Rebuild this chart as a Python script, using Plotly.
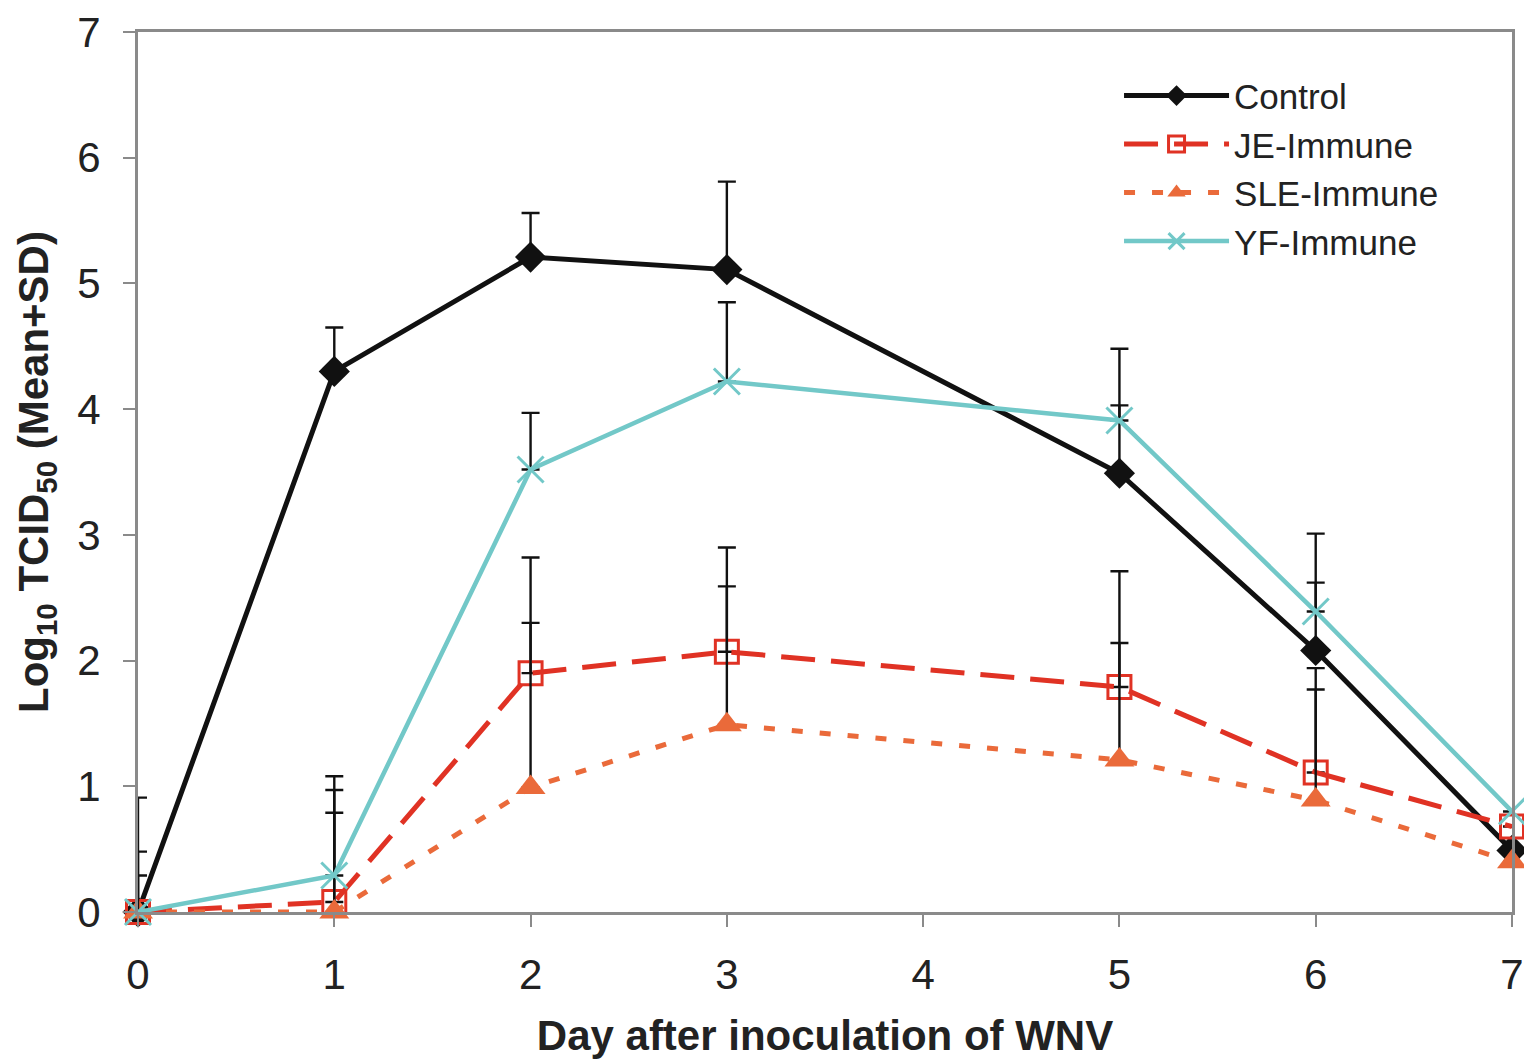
import plotly.graph_objects as go

days = [0, 1, 2, 3, 5, 6, 7]
control = [0.0, 4.30, 5.21, 5.11, 3.49, 2.08, 0.49]
je = [0.0, 0.08, 1.90, 2.07, 1.79, 1.11, 0.68]
sle = [0.0, 0.0, 0.99, 1.49, 1.21, 0.89, 0.40]
yf = [0.0, 0.29, 3.52, 4.22, 3.91, 2.39, 0.80]

# upper ends of SD bars (mean + SD)
control_top = [0.91, 4.65, 5.56, 5.81, 4.03, 2.62, None]
je_top = [0.48, 0.97, 2.82, 2.90, 2.71, 1.94, None]
sle_top = [None, 0.79, 2.30, 2.59, 2.14, 1.77, None]
yf_top = [0.29, 1.08, 3.97, 4.85, 4.48, 3.01, None]

x_ticks = [0, 1, 2, 3, 4, 5, 6, 7]
y_ticks = [0, 1, 2, 3, 4, 5, 6, 7]


def sd(mean, top):
    return [None if t is None else max(t - m, 0) for m, t in zip(mean, top)]


err_style = dict(type="data", symmetric=False, color="#111111", thickness=2.4, width=9)

series = [
    ("Control", control, control_top, dict(color="#111111", width=5, dash="solid"),
     dict(symbol="diamond", size=24, color="#111111")),
    ("JE-Immune", je, je_top, dict(color="#e03224", width=5, dash="34px,16px"),
     dict(symbol="square-open", size=23, color="#e03224", line=dict(width=3, color="#e03224"))),
    ("SLE-Immune", sle, sle_top, dict(color="#ea6a3a", width=5, dash="11px,17px"),
     dict(symbol="triangle-up", size=26, color="#ea6a3a")),
    ("YF-Immune", yf, yf_top, dict(color="#72c8c8", width=4.5, dash="solid"),
     dict(symbol="x-thin-open", size=26, color="#72c8c8", line=dict(width=3, color="#72c8c8"))),
]

fig = go.Figure()
for name, vals, top, line, marker in series:
    fig.add_trace(go.Scatter(
        x=days, y=vals, name=name, mode="lines+markers",
        line=line, marker=marker, cliponaxis=False,
        error_y=dict(array=sd(vals, top), arrayminus=[0] * len(vals), **err_style),
    ))

fig.update_layout(
    width=1532, height=1063,
    margin=dict(l=130, r=28, t=24, b=159),
    plot_bgcolor="white", paper_bgcolor="white",
    font=dict(family="Liberation Sans, Arial, sans-serif", color="#222222", size=34),
    showlegend=True,
    legend=dict(x=0.714, y=0.961, xanchor="left", yanchor="top",
                bgcolor="rgba(255,255,255,0)", font=dict(size=35, color="#222222"),
                itemwidth=105, tracegroupgap=10),
    xaxis=dict(
        range=[0, 7], tickvals=x_ticks, ticktext=[str(v) for v in x_ticks],
        showgrid=False, zeroline=False, showline=True, linecolor="#8a8a8a", linewidth=3,
        mirror=True, ticks="outside", ticklen=12, tickwidth=2, tickcolor="#8a8a8a",
        tickfont=dict(size=42), ticklabelstandoff=12, automargin=False,
        title=dict(text="<b>Day after inoculation of WNV</b>", font=dict(size=42), standoff=24),
    ),
    yaxis=dict(
        range=[0, 7], tickvals=y_ticks, ticktext=[str(v) for v in y_ticks],
        showgrid=False, zeroline=False, showline=True, linecolor="#8a8a8a", linewidth=3,
        mirror=True, ticks="outside", ticklen=12, tickwidth=2, tickcolor="#8a8a8a",
        tickfont=dict(size=42), ticklabelstandoff=14, automargin=False,
        title=dict(text="<b>Log<sub>10</sub> TCID<sub>50</sub> (Mean+SD)</b>", font=dict(size=42), standoff=16),
    ),
)

fig.write_html("out.html")
